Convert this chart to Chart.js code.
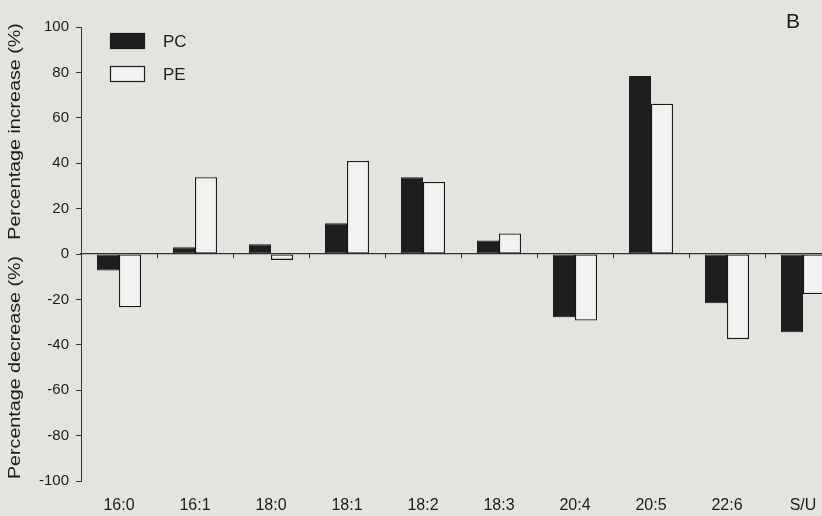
<!DOCTYPE html>
<html>
<head>
<meta charset="utf-8">
<script src="https://cdn.jsdelivr.net/npm/chart.js@4.4.0/dist/chart.umd.min.js"></script>
<style>
  html, body { margin: 0; padding: 0; background: #e3e3e0; overflow: hidden; }
  #wrap { position: relative; width: 846px; height: 516px; }
  #panel { position: absolute; left: 786px; top: 9px; font: 21px "Liberation Sans", Arial, sans-serif; color: #1a1a1a; }
</style>
</head>
<body>
<div id="wrap">
  <canvas id="chart" width="846" height="516"></canvas>
  <div id="panel">B</div>
</div>
<script>
const categories = ['16:0', '16:1', '18:0', '18:1', '18:2', '18:3', '20:4', '20:5', '22:6', 'S/U'];
const pcValues = [-7.3, 3, 4.3, 13.5, 33.8, 6, -27.9, 78.4, -21.7, -34.5];
const peValues = [-23.5, 33.8, -2.6, 41, 31.7, 9, -29.3, 66.2, -37.5, -17.6];
const yTicks = [-100, -80, -60, -40, -20, 0, 20, 40, 60, 80, 100];
const upperTitle = 'Percentage increase (%)';
const lowerTitle = 'Percentage decrease (%)';

const ink = '#1c1c1c';
const fontFamily = '"Liberation Sans", Arial, sans-serif';

// legend drawn inside the plot area, top left
const insideLegend = {
    id: 'insideLegend',
    afterDraw(chart) {
        const { ctx, chartArea } = chart;
        ctx.save();
        ctx.font = '17px ' + fontFamily;
        ctx.textBaseline = 'middle';
        chart.data.datasets.forEach((ds, i) => {
            const x = chartArea.left + 29;
            const y = chartArea.top + 6 + i * 33;
            ctx.fillStyle = ds.backgroundColor;
            ctx.fillRect(x, y, 35, 16);
            ctx.strokeStyle = ds.borderColor;
            ctx.lineWidth = 1.2;
            ctx.strokeRect(x + 0.5, y + 0.5, 34, 15);
            ctx.fillStyle = ink;
            ctx.fillText(ds.label, x + 53, y + 9);
        });
        ctx.restore();
    }
};

// two y-axis titles, one per half
const splitTitles = {
    id: 'splitTitles',
    afterDraw(chart) {
        const { ctx } = chart;
        const y = chart.scales.y;
        const items = [[upperTitle, y.getPixelForValue(54)], [lowerTitle, y.getPixelForValue(-50)]];
        ctx.save();
        ctx.font = '16px ' + fontFamily;
        ctx.fillStyle = ink;
        ctx.textAlign = 'center';
        ctx.textBaseline = 'middle';
        items.forEach(([text, py]) => {
            ctx.save();
            ctx.translate(16, py);
            ctx.rotate(-Math.PI / 2);
            ctx.scale(1.23, 1);
            ctx.fillText(text, 0, 0);
            ctx.restore();
        });
        ctx.restore();
    }
};

new Chart(document.getElementById('chart'), {
    type: 'bar',
    data: {
        labels: categories,
        datasets: [
            {
                label: 'PC',
                data: pcValues,
                backgroundColor: '#1e1e1e',
                borderColor: '#1a1a1a',
                borderWidth: 1,
                borderSkipped: false,
                categoryPercentage: 0.58,
                barPercentage: 1.0,
            },
            {
                label: 'PE',
                data: peValues,
                backgroundColor: '#f1f1ef',
                borderColor: '#1a1a1a',
                borderWidth: 1.3,
                borderSkipped: false,
                categoryPercentage: 0.58,
                barPercentage: 1.0,
            },
        ],
    },
    options: {
        responsive: false,
        animation: false,
        layout: { padding: { top: 27, right: 5, left: 0, bottom: 0 } },
        plugins: {
            legend: { display: false },
            tooltip: { enabled: false },
        },
        scales: {
            x: {
                position: 'bottom',
                grid: { display: false, drawTicks: false },
                border: { display: false },
                ticks: {
                    color: ink,
                    font: { family: fontFamily, size: 16 },
                    padding: 15,
                    maxRotation: 0,
                    autoSkip: false,
                },
                afterFit: s => { s.height = 35; },
            },
            // zero line with small ticks between categories
            x2: {
                type: 'category',
                position: { y: 0 },
                grid: {
                    drawOnChartArea: false,
                    drawTicks: true,
                    tickLength: 4,
                    color: '#333',
                    offset: true,
                },
                border: { display: true, color: '#333', width: 1.2 },
                ticks: { display: false },
            },
            y: {
                min: -100,
                max: 100,
                afterBuildTicks: s => { s.ticks = yTicks.map(v => ({ value: v })); },
                grid: {
                    drawOnChartArea: false,
                    tickLength: 5,
                    color: '#333',
                },
                border: { display: true, color: '#333', width: 1 },
                ticks: {
                    color: ink,
                    font: { family: fontFamily, size: 15 },
                    padding: 7,
                },
                afterFit: s => { s.width = 81; },
            },
        },
    },
    plugins: [insideLegend, splitTitles],
});
</script>
</body>
</html>
